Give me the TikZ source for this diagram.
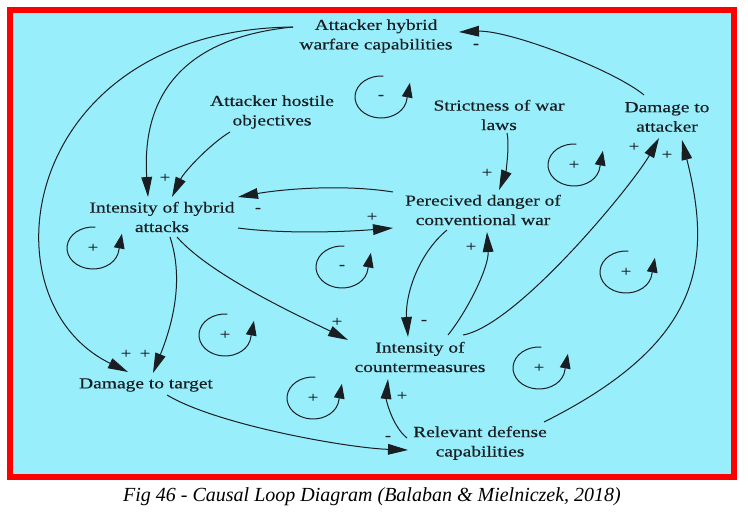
\documentclass[tikz,border=0pt]{standalone}
\usepackage{fontspec}
\setmainfont{Liberation Serif}
\newfontfamily\cldfont[FakeStretch=1.27,FakeBold=0.4]{Liberation Serif}
\usetikzlibrary{arrows.meta}
\definecolor{cldbg}{RGB}{153,238,251}
\definecolor{cldred}{RGB}{255,0,0}
\definecolor{cldink}{RGB}{24,30,34}

\begin{document}
\begin{tikzpicture}[x=0.75pt, y=-0.75pt,
    var/.style={font=\cldfont\fontsize{11.5}{14.6}\selectfont, align=center,
                text=cldink, inner sep=0pt},
    sign/.style={font=\cldfont\fontsize{11}{13}\selectfont, text=cldink, inner sep=0pt},
    link/.style={-{Triangle[length=15pt,width=8pt]}, line width=0.75pt, color=cldink},
    cyc/.style={-{Triangle[length=11pt,width=8pt]}, line width=0.75pt, color=cldink},
  ]
  \useasboundingbox (0,0) rectangle (748,514);

  % Frame
  \draw[draw=cldred, fill=cldbg, line width=4.5pt] (10,10) rectangle (733.5,476.5);

  % Variables
  \node[var] (ahw) at (376,36) {Attacker hybrid\\warfare capabilities};
  \node[var] (aho) at (272,112) {Attacker hostile\\objectives};
  \node[var] (swl) at (499,115) {Strictness of war\\laws};
  \node[var] (dta) at (667,117) {Damage to\\attacker};
  \node[var] (ihy) at (162,217) {Intensity of hybrid\\attacks};
  \node[var] (pdc) at (483,210) {Perecived danger of\\conventional war};
  \node[var] (icm) at (420,357) {Intensity of\\countermeasures};
  \node[var] (dtt) at (146,385) {Damage to target};
  \node[var] (rdc) at (480,443) {Relevant defense\\capabilities};

  % Causal links
  \draw[link] ([shift={(-83,-9)}]ahw.center) .. controls +(-273,3) and +(-148,-72) .. ([shift={(-18,-13)}]dtt.center);
  \draw[link] ([shift={(-83,-9)}]ahw.center) .. controls +(-133,13) and +(-5,-77) .. ([shift={(-14,-20)}]ihy.center);
  \draw[link] ([shift={(-42,20)}]aho.center) .. controls +(-20,12) and +(12,-25) .. ([shift={(10,-20)}]ihy.center);
  \draw[link] ([shift={(-90,-18)}]pdc.center) .. controls +(-50,-8) and +(45,-8) .. ([shift={(76,-20)}]ihy.center);
  \draw[link] ([shift={(76,11)}]ihy.center) .. controls +(45,6) and +(-50,4) .. ([shift={(-90,18)}]pdc.center);
  \draw[link] ([shift={(8,18)}]swl.center) .. controls +(3,15) and +(6,-15) .. ([shift={(16,-20)}]pdc.center);
  \draw[link] ([shift={(8,20)}]ihy.center) .. controls +(15,45) and +(18,-45) .. ([shift={(7,-12)}]dtt.center);
  \draw[link] ([shift={(15,20)}]ihy.center) .. controls +(35,40) and +(-40,-20) .. ([shift={(-72,-17)}]icm.center);
  \draw[link] ([shift={(-36,20)}]pdc.center) .. controls +(-30,25) and +(-3,-40) .. ([shift={(-12,-20)}]icm.center);
  \draw[link] ([shift={(28,-22)}]icm.center) .. controls +(20,-25) and +(2,35) .. ([shift={(4,22)}]pdc.center);
  \draw[link] ([shift={(43,-22)}]icm.center) .. controls +(55,-10) and +(-25,45) .. ([shift={(-8,21)}]dta.center);
  \draw[link] ([shift={(64,-21)}]rdc.center) .. controls +(160,-80) and +(30,120) .. ([shift={(15,23)}]dta.center);
  \draw[link] ([shift={(-23,-22)}]dta.center) .. controls +(-30,-25) and +(50,-2) .. ([shift={(83,-4)}]ahw.center);
  \draw[link] ([shift={(21,10)}]dtt.center) .. controls +(50,30) and +(-60,-2) .. ([shift={(-72,7)}]rdc.center);
  \draw[link] ([shift={(-73,-5)}]rdc.center) .. controls +(-15,-12) and +(-2,20) .. ([shift={(-32,22)}]icm.center);

  % Link polarities
  \node[sign] (p1) at (476,46) {-};
  \node[sign] (p2) at (165,178) {+};
  \node[sign] (p3) at (258,210) {-};
  \node[sign] (p4) at (372,217) {+};
  \node[sign] (p5) at (487,173) {+};
  \node[sign] (p6) at (126,354) {+};
  \node[sign] (p7) at (145,354) {+};
  \node[sign] (p8) at (337,322) {+};
  \node[sign] (p9) at (424,322) {-};
  \node[sign] (p10) at (471,247) {+};
  \node[sign] (p11) at (634,147) {+};
  \node[sign] (p12) at (667,155) {+};
  \node[sign] (p13) at (388,438) {-};
  \node[sign] (p14) at (402,396) {+};

  % Loop markers
  \node[sign] (l1) at (381,97) {-};
  \draw[cyc] (l1.center) ++(-85:26 and 21) arc[start angle=-85, end angle=-355, x radius=26, y radius=21] -- ++(3,-16);
  \node[sign] (l2) at (574,165) {+};
  \draw[cyc] (l2.center) ++(-85:26 and 21) arc[start angle=-85, end angle=-355, x radius=26, y radius=21] -- ++(3,-16);
  \node[sign] (l3) at (93,248) {+};
  \draw[cyc] (l3.center) ++(-85:26 and 21) arc[start angle=-85, end angle=-355, x radius=26, y radius=21] -- ++(3,-16);
  \node[sign] (l4) at (342,267) {-};
  \draw[cyc] (l4.center) ++(-85:26 and 21) arc[start angle=-85, end angle=-355, x radius=26, y radius=21] -- ++(3,-16);
  \node[sign] (l5) at (225,335) {+};
  \draw[cyc] (l5.center) ++(-85:26 and 21) arc[start angle=-85, end angle=-355, x radius=26, y radius=21] -- ++(3,-16);
  \node[sign] (l6) at (626,272) {+};
  \draw[cyc] (l6.center) ++(-85:26 and 21) arc[start angle=-85, end angle=-355, x radius=26, y radius=21] -- ++(3,-16);
  \node[sign] (l7) at (539,368) {+};
  \draw[cyc] (l7.center) ++(-85:26 and 21) arc[start angle=-85, end angle=-355, x radius=26, y radius=21] -- ++(3,-16);
  \node[sign] (l8) at (313,398) {+};
  \draw[cyc] (l8.center) ++(-85:26 and 21) arc[start angle=-85, end angle=-355, x radius=26, y radius=21] -- ++(3,-16);

  % Caption
  \node[font=\itshape\fontsize{15}{18}\selectfont, text=black] (cap) at (372,497)
    {Fig 46 - Causal Loop Diagram (Balaban \& Mielniczek, 2018)};
\end{tikzpicture}
\end{document}
